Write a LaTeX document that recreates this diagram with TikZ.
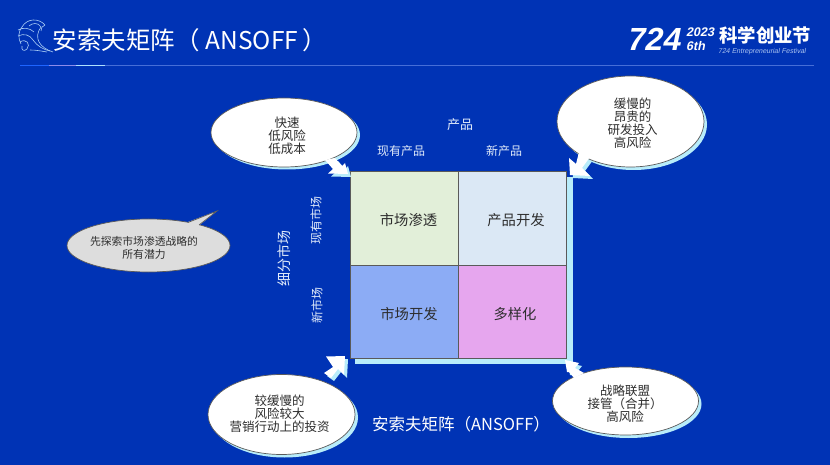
\documentclass[tikz,border=0pt]{standalone}
\usepackage{fontspec}
\setmainfont{Noto Sans CJK SC}
\newfontfamily\logofont[FakeSlant=0.2]{Liberation Sans}
\newfontfamily\capfont[FakeSlant=0.2]{Liberation Sans}
\usetikzlibrary{shapes.geometric,calc}
\definecolor{bgblue}{RGB}{0,51,181}
\definecolor{paleblue}{RGB}{184,236,250}
\definecolor{edgegray}{RGB}{90,90,90}
\definecolor{cellA}{RGB}{226,239,217}
\definecolor{cellB}{RGB}{219,232,245}
\definecolor{cellC}{RGB}{140,172,245}
\definecolor{cellD}{RGB}{230,166,238}
\definecolor{inktext}{RGB}{45,45,45}
\definecolor{labeltext}{RGB}{225,235,250}
\definecolor{wave}{RGB}{170,205,245}
\tikzset{
  x=1pt,y=-1pt,
  bubble/.style={ellipse,inner sep=0pt,draw=edgegray,line width=.7pt,fill=white},
  bubbleback/.style={ellipse,inner sep=0pt,fill=paleblue},
  bubbletext/.style={text=inktext,align=center,inner sep=0pt,font=\fontsize{12.5}{12.9}\selectfont},
  cell/.style={draw=edgegray,line width=1pt,minimum width=108pt,minimum height=93pt,inner sep=0pt},
  celltext/.style={text=inktext,inner sep=0pt,font=\fontsize{14.3}{16}\selectfont},
  axislabel/.style={text=labeltext,inner sep=0pt,font=\fontsize{12}{14}\selectfont},
  pointer/.style={fill=white,draw=none},
  pointerback/.style={fill=paleblue,draw=none,shift={(3,3)}},
  wavestroke/.style={draw=wave,line width=.6pt}
}
\begin{document}
\begin{tikzpicture}
\useasboundingbox (0,0) rectangle (830,465);
\fill[bgblue] (0,0) rectangle (830,465);

% header rule
\draw[color={rgb,255:red,70;green,110;blue,215},line width=.7pt] (105,65.5) -- (814,65.5);
\draw[color={rgb,255:red,30;green,100;blue,255},line width=1.6pt] (20,65.5) -- (49,65.5);
\draw[color={rgb,255:red,140;green,140;blue,235},line width=1.6pt] (49,65.5) -- (76,65.5);
\draw[color={rgb,255:red,175;green,225;blue,255},line width=1.6pt] (76,65.5) -- (105,65.5);

% wave logo
\draw[wavestroke] (53,52) .. controls (40,48) and (33,38) .. (41,27) .. controls (38,22) and (32,23) .. (29,26);
\draw[wavestroke] (45,25) .. controls (39,18) and (27,18) .. (22,27) .. controls (18,32) and (18,38) .. (21,44);
\draw[wavestroke] (45,25) .. controls (42,26) and (41,28) .. (41,31);
\draw[wavestroke] (18,30) .. controls (23,27) and (30,28) .. (34,32);
\draw[wavestroke] (18,36) .. controls (24,33) and (30,35) .. (33,40) .. controls (37,46) and (44,50) .. (50,51);
\draw[wavestroke] (20,42) .. controls (26,38) and (31,44) .. (27,49) .. controls (24,52) and (21,50) .. (22,46);
\draw[wavestroke] (30,50) .. controls (36,50) and (41,51) .. (47,52);

% title
\node[anchor=west,text=white,inner sep=0pt,font=\fontsize{24.5}{26}\selectfont] (title) at (52.5,40) {安索夫矩阵（\hspace{6pt}ANSOFF\hspace{4pt}）};

% festival logo
\node[anchor=west,text=white,inner sep=0pt,font=\logofont\bfseries\fontsize{32}{34}\selectfont] (logonum) at (626,39.5) {724};
\node[anchor=west,text=white,inner sep=0pt,font=\logofont\bfseries\fontsize{12.5}{13}\selectfont] (logoyear) at (686,32) {2023};
\node[anchor=west,text=white,inner sep=0pt,font=\logofont\bfseries\fontsize{12.5}{13}\selectfont] (logoth) at (686,46.5) {6th};
\node[anchor=west,text=white,inner sep=0pt,font=\bfseries\fontsize{18.4}{20}\selectfont] (logocn) at (719,35) {科学创业节};
\node[anchor=west,text={rgb,255:red,170;green,195;blue,240},inner sep=0pt,font=\capfont\fontsize{7}{8}\selectfont] (logocap) at (718,51.5) {724 Entrepreneurial Festival};

% matrix
\fill[paleblue] (355,177) rectangle (573,364);
\node[cell,fill=cellA] (c11) at (404,218.5) {};
\node[cell,fill=cellB] (c12) at (512,218.5) {};
\node[cell,fill=cellC] (c21) at (404,311.5) {};
\node[cell,fill=cellD] (c22) at (512,311.5) {};
\node[celltext] (l11) at (408.5,220.5) {市场渗透};
\node[celltext] (l12) at (516,220.5) {产品开发};
\node[celltext] (l21) at (409,314) {市场开发};
\node[celltext] (l22) at (515,314) {多样化};

% axis labels
\node[axislabel,font=\fontsize{13}{14}\selectfont] (prod) at (460,125) {产品};
\node[axislabel] (pold) at (401,150.5) {现有产品};
\node[axislabel] (pnew) at (504,150.5) {新产品};
\node[axislabel,rotate=90,font=\fontsize{14}{16}\selectfont] (seg) at (284,258) {细分市场};
\node[axislabel,rotate=90] (mold) at (316,220) {现有市场};
\node[axislabel,rotate=90] (mnew) at (317,305) {新市场};
\node[axislabel,text=white,font=\fontsize{16.5}{18}\selectfont] (cap) at (461,424.5) {安索夫矩阵（ANSOFF）};

% callout top left
\node[bubbleback,minimum width=146pt,minimum height=69pt] (s1) at (287,135) {};
\fill[pointerback] (325,160) -- (335,158) -- (342,166) -- (345,163) -- (348,174) -- (328,173.5) -- (333,169) -- cycle;
\node[bubble,minimum width=146pt,minimum height=69pt] (b1) at (284,132.5) {};
\fill[pointer] (325,160) -- (335,158) -- (342,166) -- (345,163) -- (348,174) -- (328,173.5) -- (333,169) -- cycle;
\node[bubbletext] (t1) at (287,135.5) {快速\\低风险\\低成本};

% callout top right
\node[bubbleback,minimum width=147pt,minimum height=91pt] (s2) at (633.5,124.5) {};
\fill[pointerback] (579,152) -- (590,157) -- (582,168) -- (590,176) -- (570,175) -- (569,158) -- (576,164) -- cycle;
\node[bubble,minimum width=147pt,minimum height=91pt] (b2) at (630.5,121.5) {};
\fill[pointer] (579,152) -- (590,157) -- (582,168) -- (590,176) -- (570,175) -- (569,158) -- (576,164) -- cycle;
\node[bubbletext] (t2) at (632.5,123.5) {缓慢的\\昂贵的\\研发投入\\高风险};

% callout bottom left
\node[bubbleback,minimum width=147pt,minimum height=80pt] (s3) at (284.5,417.5) {};
\fill[pointerback] (324,373) -- (333,367) -- (326,356.5) -- (345,356) -- (344,375) -- (338,369) -- (331,378) -- cycle;
\node[bubble,minimum width=147pt,minimum height=80pt] (b3) at (281.5,414.5) {};
\fill[pointer] (324,373) -- (333,367) -- (326,356.5) -- (345,356) -- (344,375) -- (338,369) -- (331,378) -- cycle;
\node[bubbletext] (t3) at (279.5,413.5) {较缓慢的\\风险较大\\营销行动上的投资};

% callout bottom right
\node[bubbleback,minimum width=146pt,minimum height=68pt] (s4) at (628.5,404) {};
\fill[pointerback] (575,368) -- (584,373) -- (574,378) -- (569,372) -- (567,372) -- (565,360) -- (579,363) -- cycle;
\node[bubble,minimum width=146pt,minimum height=68pt] (b4) at (625.5,401) {};
\fill[pointer] (575,368) -- (584,373) -- (574,378) -- (569,372) -- (567,372) -- (565,360) -- (579,363) -- cycle;
\node[bubbletext] (t4) at (625,404) {战略联盟\\接管（合并）\hspace*{11pt}\\高风险};

% grey callout
\node[ellipse,inner sep=0pt,draw=edgegray,line width=.7pt,fill={rgb,255:red,221;green,221;blue,221},minimum width=163pt,minimum height=53pt] (b5) at (148.5,245.5) {};
\fill[fill={rgb,255:red,221;green,221;blue,221},draw=none] (188,222) -- (217,211) -- (199,225.5) -- (205,228) -- (190,228) -- cycle;
\draw[draw=edgegray,line width=.7pt] (188,222.5) -- (217,211) -- (199,225);
\node[bubbletext,font=\fontsize{10.8}{13}\selectfont] (t5) at (144,248) {先探索市场渗透战略的\\所有潜力};
\end{tikzpicture}
\end{document}
